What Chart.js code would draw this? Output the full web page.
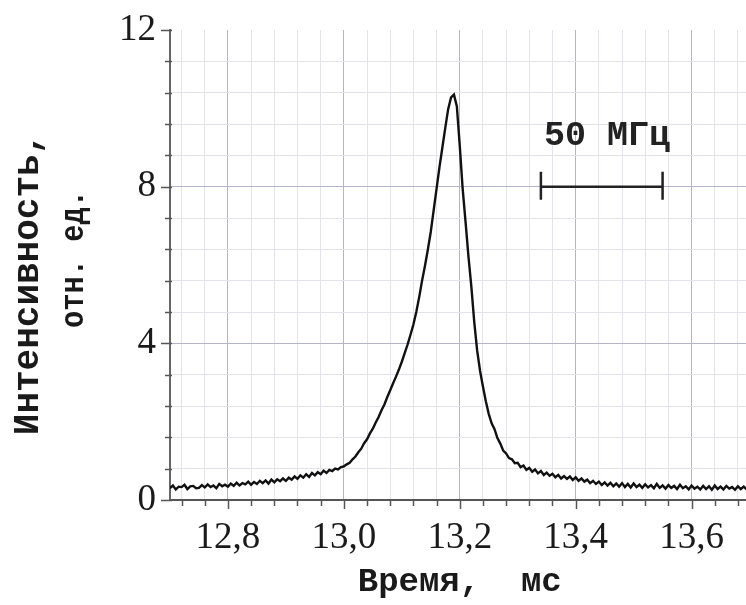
<!DOCTYPE html>
<html>
<head>
<meta charset="utf-8">
<script src="https://cdn.jsdelivr.net/npm/chart.js@4.4.1/dist/chart.umd.min.js"></script>
<style>
html,body{margin:0;padding:0;background:#fff;overflow:hidden;width:746px;height:605px}
#wrap{position:absolute;left:0;top:0;width:754px;height:605px}
</style>
</head>
<body>
<div id="wrap"><canvas id="c"></canvas></div>
<script>
// ---- data ----
const times = [
12.700,12.705,12.710,12.715,12.720,12.725,12.730,12.735,12.740,12.745,
12.750,12.755,12.760,12.765,12.770,12.775,12.780,12.785,12.790,12.795,
12.800,12.805,12.810,12.815,12.820,12.825,12.830,12.835,12.840,12.845,
12.850,12.855,12.860,12.865,12.870,12.875,12.880,12.885,12.890,12.895,
12.900,12.905,12.910,12.915,12.920,12.925,12.930,12.935,12.940,12.945,
12.950,12.955,12.960,12.965,12.970,12.975,12.980,12.985,12.990,12.995,
13.000,13.005,13.010,13.015,13.020,13.025,13.030,13.035,13.040,13.045,
13.050,13.055,13.060,13.065,13.070,13.075,13.080,13.085,13.090,13.095,
13.100,13.105,13.110,13.115,13.120,13.125,13.130,13.135,13.140,13.145,
13.150,13.155,13.160,13.165,13.170,13.175,13.180,13.185,13.190,13.195,
13.200,13.205,13.210,13.215,13.220,13.225,13.230,13.235,13.240,13.245,
13.250,13.255,13.260,13.265,13.270,13.275,13.280,13.285,13.290,13.295,
13.300,13.305,13.310,13.315,13.320,13.325,13.330,13.335,13.340,13.345,
13.350,13.355,13.360,13.365,13.370,13.375,13.380,13.385,13.390,13.395,
13.400,13.405,13.410,13.415,13.420,13.425,13.430,13.435,13.440,13.445,
13.450,13.455,13.460,13.465,13.470,13.475,13.480,13.485,13.490,13.495,
13.500,13.505,13.510,13.515,13.520,13.525,13.530,13.535,13.540,13.545,
13.550,13.555,13.560,13.565,13.570,13.575,13.580,13.585,13.590,13.595,
13.600,13.605,13.610,13.615,13.620,13.625,13.630,13.635,13.640,13.645,
13.650,13.655,13.660,13.665,13.670,13.675,13.680,13.685,13.690,13.695,
13.700
];
const intensity = [
0.30,0.37,0.27,0.34,0.33,0.39,0.28,0.35,0.36,0.30,
0.31,0.38,0.32,0.40,0.33,0.37,0.30,0.41,0.35,0.39,
0.34,0.42,0.36,0.44,0.37,0.43,0.40,0.47,0.39,0.46,
0.41,0.49,0.43,0.50,0.42,0.52,0.45,0.53,0.48,0.55,
0.49,0.57,0.52,0.60,0.54,0.63,0.57,0.66,0.59,0.69,
0.63,0.71,0.66,0.75,0.69,0.77,0.74,0.80,0.78,0.84,
0.86,0.91,0.95,1.04,1.11,1.22,1.31,1.45,1.55,1.70,
1.82,1.98,2.12,2.29,2.44,2.63,2.80,2.98,3.15,3.33,
3.53,3.75,3.97,4.22,4.48,4.80,5.18,5.60,5.98,6.40,
6.85,7.40,7.95,8.50,9.00,9.50,9.98,10.28,10.35,10.05,
9.05,7.95,7.10,6.22,5.45,4.55,3.82,3.30,2.90,2.52,
2.20,1.96,1.81,1.58,1.44,1.26,1.19,1.07,1.04,0.94,
0.95,0.84,0.88,0.77,0.82,0.72,0.78,0.68,0.74,0.64,
0.70,0.62,0.67,0.58,0.64,0.55,0.61,0.54,0.60,0.51,
0.58,0.49,0.55,0.47,0.52,0.43,0.49,0.41,0.47,0.38,
0.45,0.37,0.44,0.35,0.42,0.34,0.43,0.33,0.41,0.32,
0.42,0.33,0.39,0.31,0.40,0.32,0.38,0.30,0.41,0.31,
0.37,0.29,0.38,0.31,0.36,0.28,0.39,0.30,0.35,0.27,
0.37,0.29,0.34,0.27,0.36,0.28,0.35,0.26,0.37,0.28,
0.34,0.27,0.36,0.29,0.33,0.26,0.35,0.28,0.34,0.27,
0.33
];
const xRange = [12.7, 13.7];
const yRange = [0, 12];
const xMajorTicks = [12.8, 13.0, 13.2, 13.4, 13.6];
const xTickLabels = ['12,8', '13,0', '13,2', '13,4', '13,6'];
const xMinorStep = 0.04;
const yMajorTicks = [0, 4, 8, 12];
const yTickLabels = ['0', '4', '8', '12'];
const yMinorStep = 0.8;
const xTitle = 'Время,  мс';
const yTitleLines = ['Интенсивность,', 'отн. ед.'];
const scaleBarRange = [13.34, 13.55];   // x extent of the 50 MHz marker
const scaleBarLevel = 8;                // y value of the marker
const scaleBarLabel = '50 МГц';
const scaleBarLabelLevel = 9.3;

// ---- helpers ----
function near(a, b) { return Math.abs(a - b) < 1e-6; }
function isMajor(list, v) { return list.some(m => near(m, v)); }
function buildTicks(min, max, step) {
  const out = [];
  const start = Math.ceil(min / step - 1e-9);
  for (let k = start; k * step <= max + 1e-9; k++) {
    out.push(Math.round(k * step * 1000) / 1000);
  }
  return out;
}
const MAJOR_GRID = '#b3b3cc';
const MINOR_GRID = '#e3e3ea';
const MONO = '"Liberation Mono", monospace';

const tickMarks = {
  id: 'tickMarks',
  afterDraw(chart) {
    const ctx = chart.ctx, xs = chart.scales.x, ys = chart.scales.y;
    const a = chart.chartArea;
    ctx.save();
    ctx.strokeStyle = '#555';
    ctx.lineWidth = 1.5;
    xs.ticks.forEach(t => {
      const px = Math.round(xs.getPixelForValue(t.value)) + 0.5;
      const len = isMajor(xMajorTicks, t.value) ? 9 : 6;
      ctx.beginPath(); ctx.moveTo(px, a.bottom - 1); ctx.lineTo(px, a.bottom + len); ctx.stroke();
    });
    ys.ticks.forEach(t => {
      const py = Math.round(ys.getPixelForValue(t.value)) + 0.5;
      const len = isMajor(yMajorTicks, t.value) ? 9 : 5;
      ctx.beginPath(); ctx.moveTo(a.left - len, py); ctx.lineTo(a.left + 2, py); ctx.stroke();
    });
    ctx.restore();
  }
};

// y-axis title: two rotated lines
const yTitle = {
  id: 'yTitle',
  afterDraw(chart) {
    const ctx = chart.ctx, a = chart.chartArea;
    const mid = (a.top + a.bottom) / 2;
    const lines = [
      { text: yTitleLines[0], size: 36, stretch: 1.0, base: 38, dy: 19 },
      { text: yTitleLines[1], size: 33, stretch: 0.87, base: 83, dy: -6 }
    ];
    ctx.save();
    ctx.fillStyle = '#1a1a1a';
    lines.forEach(l => {
      ctx.save();
      ctx.translate(l.base, mid + l.dy);
      ctx.rotate(-Math.PI / 2);
      ctx.scale(l.stretch, 1);
      ctx.font = 'bold ' + l.size + 'px ' + MONO;
      ctx.textAlign = 'center';
      ctx.textBaseline = 'alphabetic';
      ctx.fillText(l.text, 0, 0);
      ctx.restore();
    });
    ctx.restore();
  }
};

const scaleBar = {
  id: 'scaleBar',
  afterDatasetsDraw(chart) {
    const ctx = chart.ctx, xs = chart.scales.x, ys = chart.scales.y;
    const x1 = xs.getPixelForValue(scaleBarRange[0]);
    const x2 = xs.getPixelForValue(scaleBarRange[1]);
    const yb = ys.getPixelForValue(scaleBarLevel);
    ctx.save();
    ctx.strokeStyle = '#222';
    ctx.lineWidth = 2.5;
    ctx.beginPath();
    ctx.moveTo(x1, yb); ctx.lineTo(x2, yb);
    ctx.moveTo(x1, yb - 15); ctx.lineTo(x1, yb + 13);
    ctx.moveTo(x2, yb - 15); ctx.lineTo(x2, yb + 13);
    ctx.stroke();
    ctx.fillStyle = '#222';
    ctx.font = 'bold 35px ' + MONO;
    ctx.textAlign = 'left';
    ctx.textBaseline = 'middle';
    ctx.fillText(scaleBarLabel, x1 + 3, ys.getPixelForValue(scaleBarLabelLevel));
    ctx.restore();
  }
};

new Chart(document.getElementById('c'), {
  type: 'line',
  data: {
    datasets: [{
      data: times.map((t, i) => ({ x: t, y: intensity[i] })),
      borderColor: '#111',
      borderWidth: 2.4,
      pointRadius: 0,
      tension: 0,
      fill: false
    }]
  },
  options: {
    responsive: true,
    maintainAspectRatio: false,
    animation: false,
    layout: { padding: { top: 30, left: 0, right: 4, bottom: 0 } },
    plugins: { legend: { display: false }, tooltip: { enabled: false } },
    scales: {
      x: {
        type: 'linear',
        min: xRange[0], max: xRange[1],
        afterBuildTicks(s) {
          s.ticks = buildTicks(xRange[0], xRange[1], xMinorStep)
            .filter(v => v > xRange[0] + 1e-6 && v < xRange[1] - 1e-6)
            .map(v => ({ value: v }));
        },
        afterFit(s) { s.height = 105; },
        ticks: {
          autoSkip: false, maxRotation: 0, minRotation: 0,
          padding: 16,
          color: '#1a1a1a',
          font: { family: '"Liberation Serif", "Times New Roman", serif', size: 37 },
          callback(v) {
            const i = xMajorTicks.findIndex(m => near(m, v));
            return i >= 0 ? xTickLabels[i] : '';
          }
        },
        grid: {
          drawTicks: false,
          color(ctx) { return ctx.tick && isMajor(xMajorTicks, ctx.tick.value) ? MAJOR_GRID : MINOR_GRID; },
          lineWidth: 1
        },
        border: { display: true, color: '#555', width: 2 },
        title: {
          display: true, text: xTitle, color: '#1a1a1a',
          font: { family: MONO, weight: 'bold', size: 34 },
          padding: { top: 0, bottom: 2 }
        }
      },
      y: {
        type: 'linear',
        min: yRange[0], max: yRange[1],
        afterBuildTicks(s) {
          s.ticks = buildTicks(yRange[0], yRange[1], yMinorStep).map(v => ({ value: v }));
        },
        afterFit(s) { s.width = 170; },
        ticks: {
          autoSkip: false, padding: 14, color: '#1a1a1a',
          font: { family: '"Liberation Serif", "Times New Roman", serif', size: 37, lineHeight: 0.8 },
          callback(v) {
            const i = yMajorTicks.findIndex(m => near(m, v));
            return i >= 0 ? yTickLabels[i] : '';
          }
        },
        grid: {
          drawTicks: false,
          color(ctx) {
            if (!ctx.tick) return MINOR_GRID;
            if (near(ctx.tick.value, yRange[1])) return 'rgba(0,0,0,0)';
            return isMajor(yMajorTicks, ctx.tick.value) ? MAJOR_GRID : MINOR_GRID;
          },
          lineWidth: 1
        },
        border: { display: true, color: '#666', width: 2 },
        title: { display: false }
      }
    }
  },
  plugins: [tickMarks, scaleBar, yTitle]
});
</script>
</body>
</html>
